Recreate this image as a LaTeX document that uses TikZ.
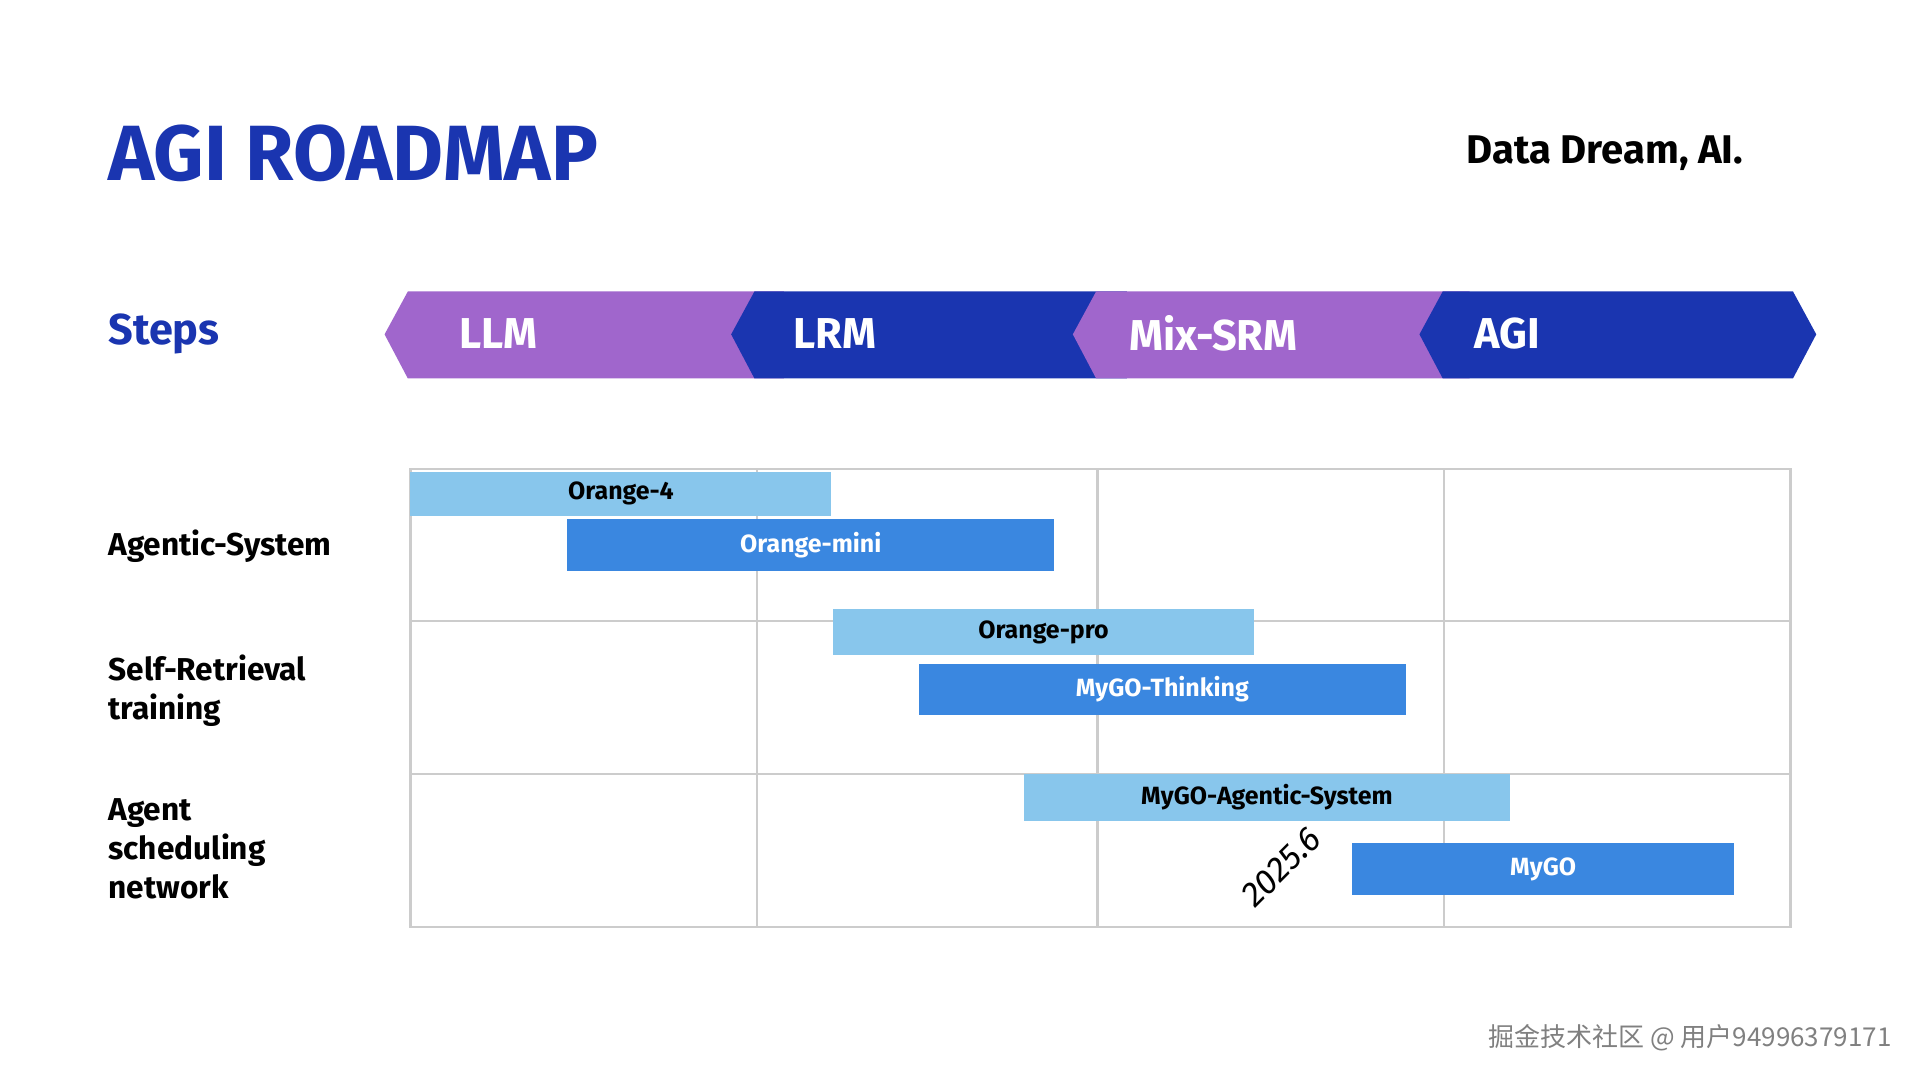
\documentclass[tikz,border=0pt]{standalone}
\usepackage{fontspec}
\setmainfont{Fira Sans}
\newfontfamily\cjk{Noto Sans CJK SC}
\definecolor{agiblue}{HTML}{1A35B0}
\definecolor{agipurple}{HTML}{A066CC}
\definecolor{barlight}{HTML}{88C6EC}
\definecolor{bardark}{HTML}{3A87E0}
\definecolor{gridgray}{HTML}{CCCCCC}
\begin{document}
\begin{tikzpicture}[x=0.012247cm, y=-0.012247cm,
		step_label/.style={anchor=west,text=white,font=\fontsize{12.3}{15}\selectfont\bfseries},
		row_label/.style={anchor=west,align=left,inner sep=0pt,font=\fontsize{9.0}{11.2}\selectfont\bfseries},
		bar_light/.style={fill=barlight,draw=none,inner sep=0pt,font=\fontsize{7.1}{9}\selectfont\bfseries,text=black},
		bar_dark/.style={fill=bardark,draw=none,inner sep=0pt,font=\fontsize{7.1}{9}\selectfont\bfseries,text=white},
		grid_style/.style={draw=gridgray,line width=0.7pt}]

		\useasboundingbox (0,0) rectangle (1567.7,881.8);

		\node[anchor=base west,text=agiblue,font=\fontsize{22.3}{26}\selectfont\bfseries,inner sep=0pt] (title) at (88,147) {AGI ROADMAP};
		\node[anchor=east,font=\fontsize{11.4}{14}\selectfont\bfseries,inner sep=0pt] (brand) at (1424,125) {Data Dream, AI.};
		\node[anchor=west,text=agiblue,font=\fontsize{12.3}{15}\selectfont\bfseries,inner sep=0pt] (steps) at (88,273) {Steps};

		% chevrons
		\fill[agipurple] (314,273) -- (333,238) -- (640,238) -- (640,309) -- (333,309) -- cycle;
		\fill[agiblue] (597,273) -- (616,238) -- (920,238) -- (920,309) -- (616,309) -- cycle;
		\fill[agipurple] (876,273) -- (895,238) -- (1200,238) -- (1200,309) -- (895,309) -- cycle;
		\fill[agiblue] (1159,273) -- (1178,238) -- (1464,238) -- (1483,273) -- (1464,309) -- (1178,309) -- cycle;
		\node[step_label] (llm) at (365,272) {LLM};
		\node[step_label] (lrm) at (638,272) {LRM};
		\node[step_label] (mix) at (912,272) {Mix-SRM};
		\node[step_label] (agi) at (1194,272) {AGI};

		% grid
		\draw[grid_style] (335,383) rectangle (1462,757);
		\draw[grid_style] (618,383) -- (618,757);
		\draw[grid_style] (896,383) -- (896,757);
		\draw[grid_style] (1179,383) -- (1179,757);
		\draw[grid_style] (335,507) -- (1462,507);
		\draw[grid_style] (335,632) -- (1462,632);

		\node[row_label] (row1) at (88,446) {Agentic-System};
		\node[row_label] (row2) at (88,564) {Self-Retrieval\\training};
		\node[row_label] (row3) at (88,693) {Agent\\scheduling\\network};

		% bars
		\node[bar_light,minimum width=4.213cm,minimum height=0.441cm] (o4) at (507,403) {Orange-4};
		\node[bar_dark,minimum width=4.874cm,minimum height=0.514cm] (omini) at (662,445) {Orange-mini};
		\node[bar_light,minimum width=4.213cm,minimum height=0.465cm] (opro) at (852,516) {Orange-pro};
		\node[bar_dark,minimum width=4.874cm,minimum height=0.514cm] (think) at (949,563) {MyGO-Thinking};
		\node[bar_light,minimum width=4.862cm,minimum height=0.465cm] (agsys) at (1034.5,651) {MyGO-Agentic-System};
		\node[bar_dark,minimum width=3.821cm,minimum height=0.527cm] (mygo) at (1260,709.5) {MyGO};

		\node[rotate=45,font=\fontsize{9.8}{12}\selectfont\itshape,inner sep=0pt] (date) at (1046,708) {2025.6};
		\node[anchor=east,text=gray,font=\cjk\fontsize{7.4}{9}\selectfont,inner sep=0pt] (mark) at (1545,847) {掘金技术社区 @ 用户94996379171};
\end{tikzpicture}
\end{document}
